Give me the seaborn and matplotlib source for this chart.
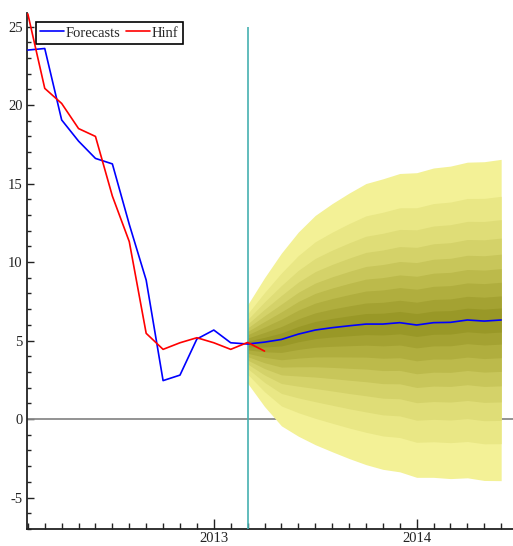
import numpy as np
import pandas as pd
import matplotlib
matplotlib.use("Agg")
import matplotlib.pyplot as plt
import seaborn as sns
from matplotlib.ticker import FixedLocator, FixedFormatter, MultipleLocator

# ---- data (month index, 0 = Jan 2013) ----
months_hist = list(range(-11, 4))
hinf = [25.8, 21.06, 20.1, 18.5, 18.0, 14.2, 11.3, 5.46, 4.44, 4.86, 5.18, 4.86, 4.44, 4.88, 4.33]

months_fc = list(range(-11, 18))
forecasts = [23.5, 23.6, 19.05, 17.7, 16.6, 16.25, 12.4, 8.85, 2.45, 2.8, 5.1, 5.67, 4.86,
             4.78, 4.9, 5.07, 5.41, 5.67, 5.82, 5.94, 6.05, 6.05, 6.14, 5.99, 6.14, 6.16, 6.31, 6.24, 6.31]

fan_months = list(range(2, 18))
fan_halfwidth = [2.5, 4.1, 5.5, 6.5, 7.3, 7.9, 8.45, 8.95, 9.25, 9.5, 9.7, 9.85, 9.95, 10.05, 10.15, 10.23]
band_fraction = [1.0, 0.77, 0.625, 0.51, 0.41, 0.32, 0.235, 0.15, 0.075]
band_colors = ["#f3f196", "#e9e785", "#dfdd77", "#d4d269", "#c8c65a", "#bcba4b",
               "#b0ae3e", "#a4a232", "#999827"]

forecast_start = 2
year_ticks = [0, 12]
year_labels = ["2013", "2014"]
y_ticks = [-5, 0, 5, 10, 15, 20, 25]
y_labels = ["-5", "0", "5", "10", "15", "20", "25"]

# ---- style ----
sns.set_style("ticks")
plt.rcParams['font.family'] = ['Liberation Serif', 'DejaVu Serif']
plt.rcParams['axes.unicode_minus'] = False

W, H = 513, 546
fig = plt.figure(figsize=(W / 100, H / 100), dpi=100)
ax = fig.add_axes([27 / W, 17 / H, 1 - 27 / W, (529 - 13) / H])

# zero line
ax.axhline(0, color="#8a8a8a", lw=1.3, zorder=1)

# fan
center = np.array(forecasts[months_fc.index(fan_months[0]):])
hw = np.array(fan_halfwidth)
for frac, col in zip(band_fraction, band_colors):
    ax.fill_between(fan_months, center - hw * frac, center + hw * frac,
                    color=col, lw=0, zorder=2)

# vertical forecast-start line
ax.vlines(forecast_start, -7, 25, color="#45b0b0", lw=1.2, zorder=4)

df_fc = pd.DataFrame({"month": months_fc, "value": forecasts})
df_h = pd.DataFrame({"month": months_hist, "value": hinf})
sns.lineplot(data=df_fc, x="month", y="value", color="#0000ff", lw=1.2, ax=ax,
             label="Forecasts", zorder=5)
sns.lineplot(data=df_h, x="month", y="value", color="#ff0000", lw=1.2, ax=ax,
             label="Hinf", zorder=6)

ax.set_xlim(-11.05, 17.7)
ax.set_ylim(-7, 25.86)
ax.set_xlabel("")
ax.set_ylabel("")

ax.xaxis.set_major_locator(FixedLocator(year_ticks))
ax.xaxis.set_major_formatter(FixedFormatter(year_labels))
ax.xaxis.set_minor_locator(MultipleLocator(1))
ax.yaxis.set_major_locator(FixedLocator(y_ticks))
ax.yaxis.set_major_formatter(FixedFormatter(y_labels))
ax.yaxis.set_minor_locator(MultipleLocator(1))

ax.tick_params(which="both", direction="in", colors="#222222", labelcolor="#222222",
               labelsize=10.5, width=1)
ax.tick_params(axis="y", which="major", length=5, pad=3)
ax.tick_params(axis="y", which="minor", length=3)
ax.tick_params(axis="x", which="major", length=7, pad=2)
ax.tick_params(axis="x", which="minor", length=4)

for s in ["top", "right"]:
    ax.spines[s].set_visible(False)
for s in ["left", "bottom"]:
    ax.spines[s].set_color("#222222")
    ax.spines[s].set_linewidth(1.3)

leg = ax.legend(ncol=2, loc="upper left", bbox_to_anchor=(36 / W, 1 - 22 / H),
                bbox_transform=fig.transFigure, borderaxespad=0, frameon=True,
                fancybox=False, edgecolor="black", framealpha=1, handlelength=1.6,
                handletextpad=0.15, columnspacing=0.4, borderpad=0.3, fontsize=10.5)
leg.get_frame().set_linewidth(1.2)

fig.savefig("out.png", dpi=100, facecolor="white")
